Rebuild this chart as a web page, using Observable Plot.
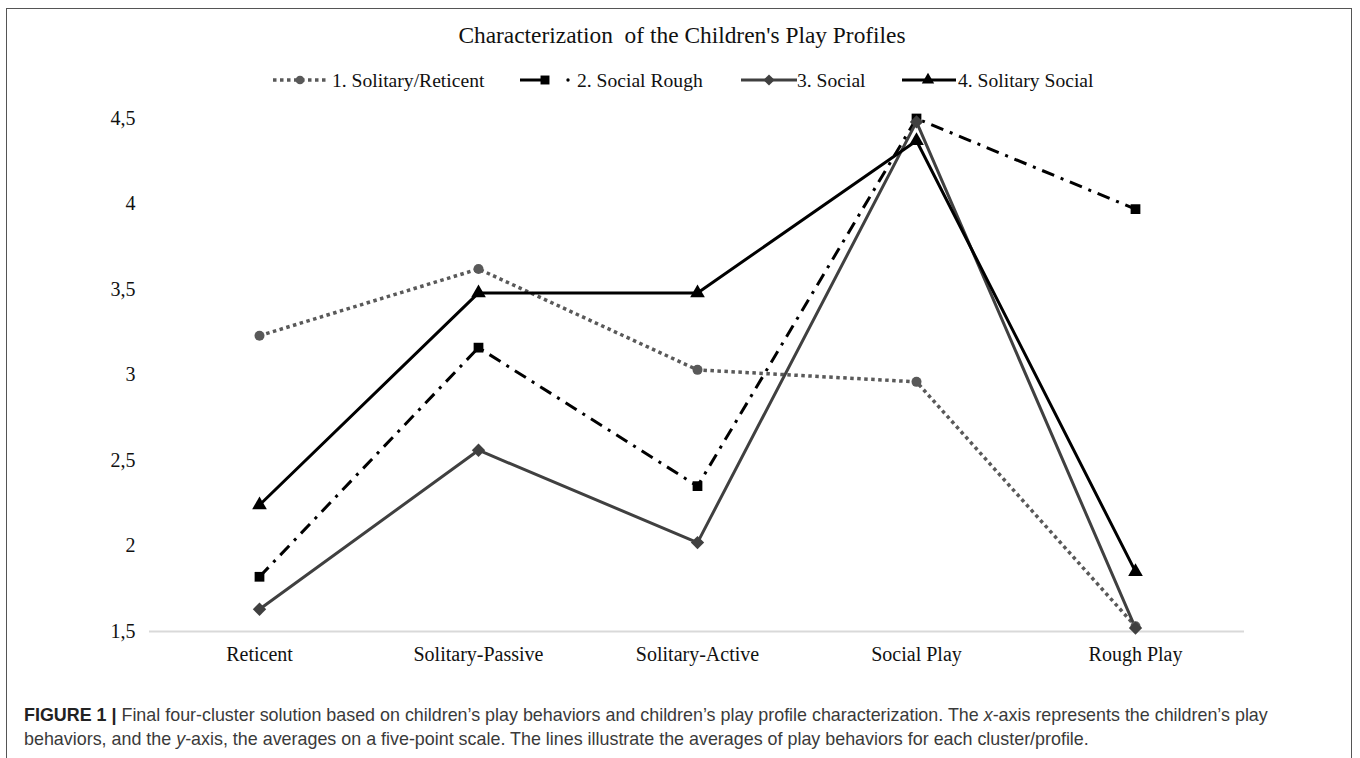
<!DOCTYPE html>
<html><head><meta charset="utf-8">
<script src="https://cdn.jsdelivr.net/npm/d3@7"></script>
<script src="https://cdn.jsdelivr.net/npm/@observablehq/plot@0.6"></script>
<style>
html,body{margin:0;padding:0;background:#fff;width:1360px;height:758px;overflow:hidden;}
#frame{position:absolute;left:6px;top:8px;width:1346px;height:800px;border:1.5px solid #555;box-sizing:border-box;}
#title{position:absolute;left:0;width:1364px;top:22px;text-align:center;font-family:"Liberation Serif",serif;font-size:23.4px;color:#111;white-space:pre;}
#legend{position:absolute;top:66px;left:0;width:1360px;height:30px;}
#chart{position:absolute;left:0;top:0;}
#caption{position:absolute;left:24px;top:703px;width:1290px;font-family:"Liberation Sans",Arial,sans-serif;font-size:17.9px;line-height:24px;color:#3a3a3a;}
#caption b{color:#222;}
</style></head>
<body>
<div id="frame"></div>
<div id="chart"></div>
<div id="title">Characterization  of the Children's Play Profiles</div>
<div id="legend"></div>
<div id="caption"><b>FIGURE 1 |</b> Final four-cluster solution based on children’s play behaviors and children’s play profile characterization. The <i>x</i>-axis represents the children’s play behaviors, and the <i>y</i>-axis, the averages on a five-point scale. The lines illustrate the averages of play behaviors for each cluster/profile.</div>
<script>
const categories = ["Reticent", "Solitary-Passive", "Solitary-Active", "Social Play", "Rough Play"];
const seriesNames = ["1. Solitary/Reticent", "2. Social Rough", "3. Social", "4. Solitary Social"];
const solitaryReticent = [3.23, 3.62, 3.03, 2.96, 1.53];
const socialRough = [1.82, 3.16, 2.35, 4.50, 3.97];
const social = [1.63, 2.56, 2.02, 4.48, 1.52];
const solitarySocial = [2.24, 3.48, 3.48, 4.37, 1.85];
const yTicks = [1.5, 2, 2.5, 3, 3.5, 4, 4.5];

const styles = [
  {stroke:"#595959", width:3.5, dash:"3.5,3.5", symbol:"circle", r:5, fill:"#595959"},
  {stroke:"#000", width:3, dash:"13,7,3,7", symbol:"square", r:5.5, fill:"#000"},
  {stroke:"#404040", width:3, dash:null, symbol:"diamond2", r:6, fill:"#404040"},
  {stroke:"#000", width:3, dash:null, symbol:"triangle2", r:7, fill:"#000"}
];
const allValues = [solitaryReticent, socialRough, social, solitarySocial];
const datasets = allValues.map((vals, i) => categories.map((c, j) => ({cat: c, v: vals[j], s: seriesNames[i]})));

const marks = [
  Plot.ruleY([1.5], {stroke:"#d9d9d9", strokeWidth:2})
];
datasets.forEach((d, i) => {
  const st = styles[i];
  marks.push(Plot.line(d, {x:"cat", y:"v", stroke:st.stroke, strokeWidth:st.width, strokeDasharray:st.dash, strokeLinecap:"butt", strokeLinejoin:"miter"}));
});
datasets.forEach((d, i) => {
  const st = styles[i];
  marks.push(Plot.dot(d, {x:"cat", y:"v", symbol:()=>st.symbol, r:st.r, fill:st.fill, stroke:"none"}));
});

const chart = Plot.plot({
  width: 1360, height: 690,
  marginTop: 118, marginBottom: 59, marginLeft: 149, marginRight: 116,
  style: {fontFamily: "'Liberation Serif', serif", fontSize: "20px", color: "#111", background: "transparent"},
  x: {type: "point", domain: categories, padding: 0.5, label: null, tickSize: 0, tickPadding: 15},
  y: {domain: [1.5, 4.5], ticks: yTicks, tickFormat: d => String(d).replace(".", ","), label: null, tickSize: 0, tickPadding: 14},
  symbol: {type: "identity"},
  marks
});
document.getElementById("chart").appendChild(chart);

// legend
const lg = d3.select("#legend").append("svg").attr("width", 1360).attr("height", 30);
const legendItems = [
  {x0: 273, x1: 328, mx: 300, tx: 332},
  {x0: 520, x1: 547, mx: 545, tx: 577},
  {x0: 741, x1: 797, mx: 769, tx: 797},
  {x0: 902, x1: 956, mx: 928, tx: 958}
];
const legendSymbols = [d3.symbolCircle, d3.symbolSquare, d3.symbolDiamond2, d3.symbolTriangle2];
const legendSizes = [60, 80, 80, 110];
legendItems.forEach((it, i) => {
  const st = styles[i];
  const cy = 14;
  const ln = lg.append("line").attr("x1", it.x0).attr("x2", it.x1).attr("y1", cy).attr("y2", cy)
    .attr("stroke", st.stroke).attr("stroke-width", st.width);
  if (i === 0) ln.attr("stroke-dasharray", st.dash);
  if (i === 1) lg.append("circle").attr("cx", 568).attr("cy", cy).attr("r", 1.7).attr("fill", "#000");
  lg.append("path").attr("transform", `translate(${it.mx},${cy})`)
    .attr("d", d3.symbol(legendSymbols[i], legendSizes[i])())
    .attr("fill", st.fill);
  lg.append("text").attr("x", it.tx).attr("y", cy + 6.5).text(seriesNames[i])
    .attr("font-family", "'Liberation Serif', serif").attr("font-size", "19.6px").attr("fill", "#111");
});
</script>
</body></html>
